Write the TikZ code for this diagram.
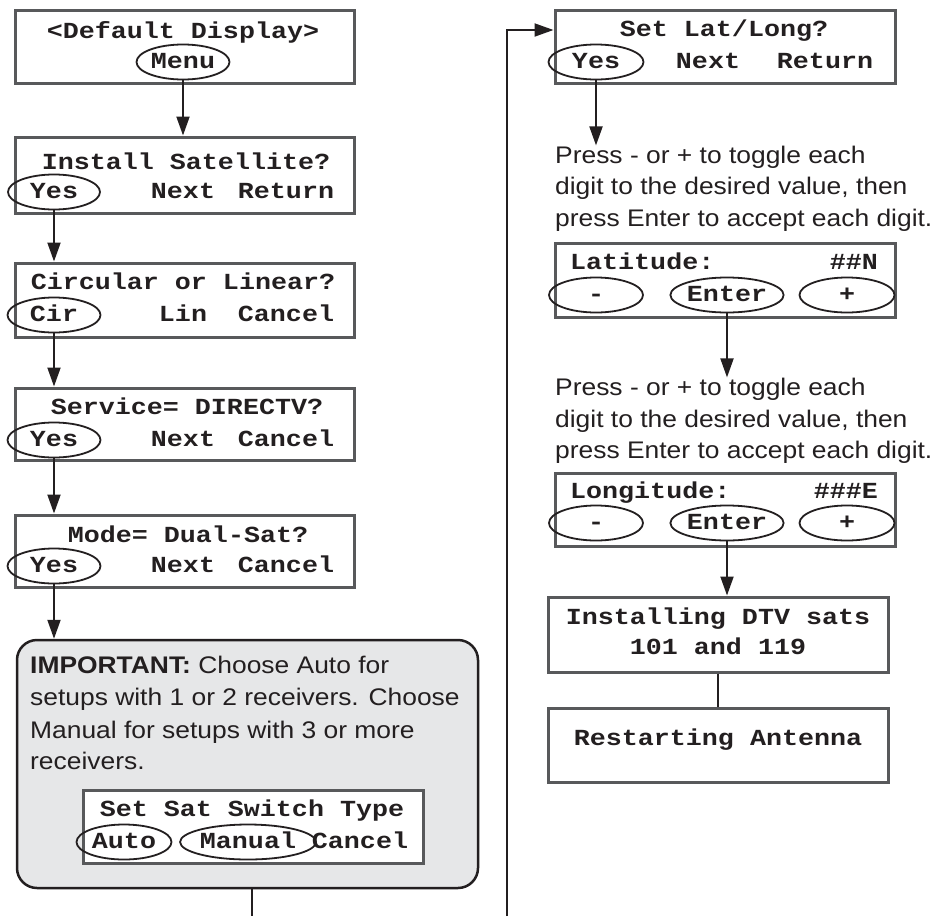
\documentclass[tikz,border=0pt]{standalone}
\usepackage{fontspec}
\usetikzlibrary{arrows.meta,shapes.geometric,calc}
\newfontfamily\lcdfont[FakeStretch=1.16]{Liberation Mono}
\newfontfamily\helv[FakeStretch=1.1]{Liberation Sans}
\definecolor{boxgray}{HTML}{58595B}
\definecolor{fillgray}{HTML}{E6E7E8}
\definecolor{ink}{HTML}{231F20}
\begin{document}
\begin{tikzpicture}[x=1pt,y=-1pt,
  lcd/.style={draw=boxgray,line width=3pt,fill=white,rectangle,inner sep=0pt},
  mono/.style={font=\lcdfont\bfseries\fontsize{23}{26}\selectfont,text=ink,inner sep=0pt,text height=13pt,text depth=0pt},
  btn/.style={mono,draw=ink,ellipse,line width=1.8pt,minimum height=35pt},
  note/.style={font=\helv\fontsize{24}{32}\selectfont,text=ink,inner sep=0pt,anchor=base west},
  flow/.style={draw=ink,line width=2pt,-{Triangle[length=19pt,width=13pt]}},
  plain/.style={draw=ink,line width=2pt}]
\useasboundingbox (0,0) rectangle (939,916);

% ---------- left column ----------
\node[lcd,minimum width=339pt,minimum height=73pt] (b1) at (184.5,46.5) {};
\node[mono] (b1t) at (183,32) {<Default Display>};
\node[btn,minimum width=93pt] (menu) at (183,62) {Menu};

\node[lcd,minimum width=339pt,minimum height=76pt] (b2) at (184.5,175) {};
\node[mono] (b2t) at (186,163) {Install Satellite?};
\node[btn,minimum width=92pt] (b2y) at (54,192) {Yes};
\node[mono] (b2n) at (183,192) {Next};
\node[mono] (b2r) at (286,192) {Return};

\node[lcd,minimum width=339pt,minimum height=74pt] (b3) at (184.5,300) {};
\node[mono] (b3t) at (183,283) {Circular or Linear?};
\node[btn,minimum width=93pt] (b3c) at (54,315) {Cir};
\node[mono] (b3l) at (183,315) {Lin};
\node[mono] (b3x) at (286,315) {Cancel};

\node[lcd,minimum width=339pt,minimum height=72pt] (b4) at (184.5,424) {};
\node[mono] (b4t) at (187,408) {Service= DIRECTV?};
\node[btn,minimum width=93pt] (b4y) at (54,440) {Yes};
\node[mono] (b4n) at (183,440) {Next};
\node[mono] (b4x) at (286,440) {Cancel};

\node[lcd,minimum width=339pt,minimum height=72pt] (b5) at (184.5,551) {};
\node[mono] (b5t) at (188,536) {Mode= Dual-Sat?};
\node[btn,minimum width=93pt] (b5y) at (54,566) {Yes};
\node[mono] (b5n) at (183,566) {Next};
\node[mono] (b5x) at (286,566) {Cancel};

\node[draw=ink,fill=fillgray,line width=2.5pt,rounded corners=20pt,minimum width=461pt,minimum height=248pt,inner sep=0pt] (imp) at (247.5,764) {};
\node[note] (imp1) at (30,673) {\bfseries IMPORTANT:\mdseries{} Choose Auto for};
\node[note] (imp2) at (30,705) {setups with 1 or 2 receivers. Choose};
\node[note] (imp3) at (30,738) {Manual for setups with 3 or more};
\node[note] (imp4) at (30,769) {receivers.};

\node[lcd,minimum width=340pt,minimum height=73pt] (sw) at (253,826.5) {};
\node[mono] (swt) at (252,810) {Set Sat Switch Type};
\node[btn,minimum width=95pt] (swa) at (124,842) {Auto};
\node[btn,minimum width=115pt] (swm) at (248,842) {Manual};
\node[mono] (swc) at (360,842) {Cancel};

\draw[flow] (menu.south) -- (menu.south |- b2.north);
\draw[flow] (b2y.south) -- (b2y.south |- b3.north);
\draw[flow] (b3c.south) -- (b3c.south |- b4.north);
\draw[flow] (b4y.south) -- (b4y.south |- b5.north);
\draw[flow] (b5y.south) -- (b5y.south |- imp.north);

\coordinate (gbot) at (252,916);
\draw[plain] (imp.south -| gbot) -- (gbot);

% ---------- right column ----------
\node[lcd,minimum width=340pt,minimum height=73pt] (ll) at (725,46.5) {};
\node[mono] (llt) at (724,30) {Set Lat/Long?};
\node[btn,minimum width=95pt] (lly) at (596,62) {Yes};
\node[mono] (lln) at (708,62) {Next};
\node[mono] (llr) at (825,62) {Return};

\coordinate (loopbot) at (507,916);
\draw[flow] (loopbot) |- (llt -| ll.west);

\node[note] (p1a) at (555,163) {Press - or + to toggle each};
\node[note] (p1b) at (555,194) {digit to the desired value, then};
\node[note] (p1c) at (555,226) {press Enter to accept each digit.};
\draw[flow] (lly.south) -- (lly.south |- p1a.north);

\node[lcd,minimum width=340pt,minimum height=74pt] (lat) at (725,280) {};
\node[mono,anchor=west] (latt) at (570,263) {Latitude:};
\node[mono,anchor=east] (latv) at (878,263) {\#\#N};
\node[btn,minimum width=94pt] (latm) at (596,295) {-};
\node[btn,minimum width=95pt] (late) at (727,295) {Enter};
\node[btn,minimum width=95pt] (latp) at (847,295) {+};

\node[note] (p2a) at (555,395) {Press - or + to toggle each};
\node[note] (p2b) at (555,427) {digit to the desired value, then};
\node[note] (p2c) at (555,458) {press Enter to accept each digit.};
\draw[flow] (late.south) -- (late.south |- p2a.north);

\node[lcd,minimum width=340pt,minimum height=73pt] (lon) at (725,509.5) {};
\node[mono,anchor=west] (lont) at (570,492) {Longitude:};
\node[mono,anchor=east] (lonv) at (878,492) {\#\#\#E};
\node[btn,minimum width=94pt] (lonm) at (596,523) {-};
\node[btn,minimum width=95pt] (lone) at (727,523) {Enter};
\node[btn,minimum width=95pt] (lonp) at (847,523) {+};

\node[lcd,minimum width=340pt,minimum height=75pt] (inst) at (718,634.5) {};
\node[mono] (inst1) at (718,618) {Installing DTV sats};
\node[mono] (inst2) at (718,648) {101 and 119};
\draw[flow] (lone.south) -- (lone.south |- inst.north);

\node[lcd,minimum width=340pt,minimum height=74pt] (rest) at (718,745) {};
\node[mono] (restt) at (718,739) {Restarting Antenna};
\draw[plain] (inst.south) -- (rest.north);
\end{tikzpicture}
\end{document}
